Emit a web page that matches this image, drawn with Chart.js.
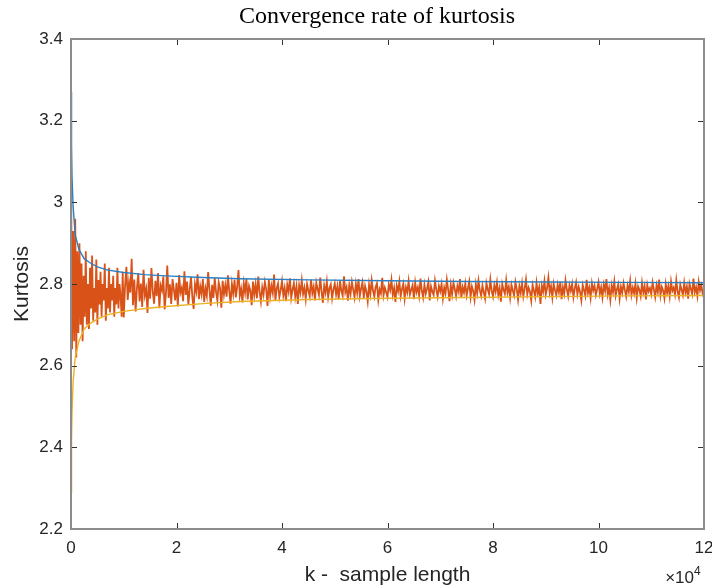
<!DOCTYPE html>
<html>
<head>
<meta charset="utf-8">
<script src="https://cdn.jsdelivr.net/npm/chart.js@4"></script>
<style>
  body { margin: 0; background: #fff; }
</style>
</head>
<body>
<canvas id="grafica" width="712" height="588"></canvas>
<script>
// Envolventes (k en muestras)
const kEnvolvente = [0, 100, 200, 400, 800, 1500, 2500, 3600, 5000, 7000, 10000, 14000, 18000, 25000, 32000, 45000, 60000, 75000, 90000, 105000, 120000];
const curvaSuperior = [3.27, 3.14, 3.06, 2.99, 2.92, 2.885, 2.862, 2.852, 2.842, 2.834, 2.828, 2.823, 2.820, 2.816, 2.813, 2.810, 2.808, 2.806, 2.805, 2.804, 2.803];
const curvaInferior = [2.29, 2.42, 2.49, 2.56, 2.62, 2.66, 2.69, 2.703, 2.714, 2.725, 2.733, 2.740, 2.745, 2.752, 2.757, 2.762, 2.765, 2.767, 2.769, 2.771, 2.772];

// Curtosis medida: primer tramo cada 200 muestras, luego cada 250
const kInicio = 0, pasoInicio = 200;
const curtosisInicio = [
  3.10, 2.64, 2.93, 2.66, 2.96, 2.62, 2.88, 2.68, 2.90, 2.70,
  2.85, 2.66, 2.82, 2.72, 2.88, 2.70, 2.80, 2.69, 2.84, 2.74,
  2.87, 2.71, 2.79, 2.73, 2.86, 2.70, 2.81, 2.75, 2.83, 2.72,
  2.80, 2.76, 2.85, 2.71, 2.79, 2.74, 2.84, 2.73, 2.80, 2.76,
  2.82, 2.72, 2.79, 2.75, 2.84, 2.74, 2.80, 2.77, 2.72, 2.83
];
const kResto = 10000, pasoResto = 250;
const curtosisResto = [
  2.718, 2.795, 2.842, 2.761, 2.804, 2.779, 2.862, 2.748, 2.811, 2.733, 2.790, 2.826, 2.757, 2.801, 2.744, 2.835, 2.772, 2.788, 2.729, 2.815,
  2.764, 2.839, 2.781, 2.752, 2.808, 2.770, 2.827, 2.741, 2.796, 2.784, 2.819, 2.738, 2.777, 2.845, 2.766, 2.799, 2.751, 2.812, 2.786, 2.760,
  2.803, 2.745, 2.822, 2.779, 2.791, 2.758, 2.831, 2.773, 2.806, 2.749, 2.787, 2.817, 2.768, 2.739, 2.800, 2.782, 2.824, 2.763, 2.794, 2.775,
  2.812, 2.756, 2.789, 2.771, 2.829, 2.785, 2.747, 2.798, 2.766, 2.815, 2.780, 2.759, 2.804, 2.790, 2.742, 2.808, 2.774, 2.797, 2.769, 2.821,
  2.783, 2.752, 2.800, 2.776, 2.810, 2.767, 2.793, 2.834, 2.771, 2.788, 2.755, 2.802, 2.779, 2.813, 2.762, 2.795, 2.784, 2.748, 2.806, 2.773,
  2.799, 2.765, 2.818, 2.781, 2.757, 2.792, 2.774, 2.805, 2.787, 2.746, 2.811, 2.770, 2.796, 2.778, 2.823, 2.760, 2.789, 2.801, 2.768, 2.785,
  2.807, 2.772, 2.790, 2.758, 2.798, 2.781, 2.814, 2.766, 2.786, 2.802, 2.769, 2.794, 2.751, 2.797, 2.779, 2.809, 2.775, 2.791, 2.763, 2.800,
  2.784, 2.770, 2.811, 2.777, 2.793, 2.760, 2.803, 2.788, 2.773, 2.816, 2.782, 2.754, 2.796, 2.779, 2.806, 2.768, 2.790, 2.799, 2.765, 2.787,
  2.801, 2.774, 2.794, 2.762, 2.808, 2.783, 2.771, 2.819, 2.780, 2.792, 2.759, 2.797, 2.776, 2.805, 2.786, 2.767, 2.800, 2.778, 2.812, 2.770,
  2.789, 2.804, 2.766, 2.795, 2.781, 2.757, 2.798, 2.775, 2.809, 2.784, 2.769, 2.793, 2.802, 2.761, 2.787, 2.777, 2.815, 2.772, 2.791, 2.780,
  2.768, 2.799, 2.785, 2.810, 2.773, 2.790, 2.756, 2.796, 2.782, 2.806, 2.770, 2.788, 2.801, 2.764, 2.792, 2.779, 2.807, 2.774, 2.786, 2.797,
  2.763, 2.803, 2.780, 2.792, 2.771, 2.813, 2.784, 2.767, 2.798, 2.776, 2.789, 2.805, 2.760, 2.794, 2.781, 2.773, 2.808, 2.786, 2.769, 2.795,
  2.782, 2.800, 2.765, 2.791, 2.777, 2.810, 2.786, 2.758, 2.797, 2.774, 2.803, 2.788, 2.770, 2.795, 2.781, 2.812, 2.766, 2.792, 2.779, 2.801,
  2.772, 2.789, 2.806, 2.768, 2.794, 2.783, 2.761, 2.799, 2.777, 2.808, 2.785, 2.771, 2.796, 2.780, 2.764, 2.802, 2.787, 2.775, 2.811, 2.783,
  2.769, 2.797, 2.781, 2.804, 2.773, 2.790, 2.757, 2.800, 2.786, 2.776, 2.809, 2.779, 2.793, 2.766, 2.798, 2.784, 2.772, 2.805, 2.788, 2.762,
  2.795, 2.778, 2.802, 2.770, 2.789, 2.811, 2.775, 2.791, 2.782, 2.759, 2.798, 2.784, 2.768, 2.803, 2.777, 2.792, 2.751, 2.796, 2.781, 2.807,
  2.774, 2.790, 2.816, 2.779, 2.795, 2.767, 2.801, 2.785, 2.772, 2.798, 2.780, 2.806, 2.763, 2.792, 2.776, 2.809, 2.787, 2.770, 2.797, 2.783,
  2.800, 2.768, 2.789, 2.804, 2.775, 2.793, 2.781, 2.760, 2.798, 2.786, 2.771, 2.810, 2.778, 2.791, 2.766, 2.802, 2.784, 2.796, 2.773, 2.788,
  2.805, 2.776, 2.792, 2.767, 2.799, 2.783, 2.812, 2.774, 2.790, 2.761, 2.797, 2.780, 2.806, 2.771, 2.787, 2.799, 2.764, 2.793, 2.778, 2.802,
  2.785, 2.769, 2.796, 2.781, 2.808, 2.773, 2.791, 2.777, 2.801, 2.766, 2.794, 2.786, 2.770, 2.803, 2.779, 2.795, 2.762, 2.798, 2.782, 2.790,
  2.775, 2.804, 2.787, 2.768, 2.797, 2.780, 2.811, 2.772, 2.793, 2.784, 2.765, 2.800, 2.778, 2.795, 2.770, 2.806, 2.783, 2.791, 2.774, 2.809,
  2.781, 2.767, 2.799, 2.786, 2.773, 2.803, 2.779, 2.794, 2.764, 2.801, 2.788, 2.775, 2.813, 2.780, 2.792, 2.770, 2.805, 2.784, 2.797, 2.776,
  2.785
];

const ticksX = [0, 2, 4, 6, 8, 10, 12]; // ×10^4
const ticksY = [2.2, 2.4, 2.6, 2.8, 3, 3.2, 3.4];

const puntosSup = kEnvolvente.map((k, i) => ({ x: k, y: curvaSuperior[i] }));
const puntosInf = kEnvolvente.map((k, i) => ({ x: k, y: curvaInferior[i] }));
const puntosCurtosis = [
  ...curtosisInicio.map((v, i) => ({ x: kInicio + i * pasoInicio, y: v })),
  ...curtosisResto.map((v, i) => ({ x: kResto + i * pasoResto, y: v }))
];

// Marco estilo MATLAB: caja, ticks hacia dentro, título y ×10^4
const marco = {
  id: 'marco',
  afterDraw(chart) {
    const { ctx, chartArea: a, scales: { x, y } } = chart;
    ctx.save();
    ctx.strokeStyle = '#333';
    ctx.lineWidth = 1;
    ctx.beginPath();
    ticksX.forEach(v => {
      const px = Math.round(x.getPixelForValue(v * 1e4)) + 0.5;
      ctx.moveTo(px, a.bottom); ctx.lineTo(px, a.bottom - 6);
      ctx.moveTo(px, a.top); ctx.lineTo(px, a.top + 6);
    });
    ticksY.forEach(v => {
      const py = Math.round(y.getPixelForValue(v)) + 0.5;
      ctx.moveTo(a.left, py); ctx.lineTo(a.left + 6, py);
      ctx.moveTo(a.right, py); ctx.lineTo(a.right - 6, py);
    });
    ctx.stroke();

    ctx.strokeStyle = '#8c8c8c';
    ctx.lineWidth = 2;
    ctx.strokeRect(a.left, a.top, a.right - a.left, a.bottom - a.top);

    ctx.fillStyle = '#000';
    ctx.font = '24px "Liberation Serif"';
    ctx.textAlign = 'center';
    ctx.textBaseline = 'middle';
    ctx.fillText('Convergence rate of kurtosis', 377, 17);

    ctx.fillStyle = '#262626';
    ctx.textAlign = 'right';
    ctx.textBaseline = 'alphabetic';
    ctx.font = '17px "Liberation Sans"';
    ctx.fillText('×10', 694, 583);
    ctx.textAlign = 'left';
    ctx.font = '12px "Liberation Sans"';
    ctx.fillText('4', 694, 575);
    ctx.restore();
  }
};

new Chart(document.getElementById('grafica'), {
  type: 'line',
  data: {
    datasets: [
      { data: puntosSup, borderColor: '#2a7fc4', borderWidth: 1.4 },
      { data: puntosInf, borderColor: '#EDB120', borderWidth: 1.4 },
      { data: puntosCurtosis, borderColor: '#D95319', borderWidth: 1.8 }
    ]
  },
  options: {
    responsive: false,
    animation: false,
    events: [],
    layout: { padding: { top: 39, right: 8, left: 0, bottom: 0 } },
    elements: { point: { radius: 0 }, line: { tension: 0 } },
    plugins: { legend: { display: false }, tooltip: { enabled: false }, title: { display: false } },
    scales: {
      x: {
        type: 'linear',
        min: 0,
        max: 120000,
        afterBuildTicks: s => { s.ticks = ticksX.map(v => ({ value: v * 1e4 })); },
        afterFit: s => { s.height = 59; s.paddingLeft = 0; s.paddingRight = 0; },
        grid: { display: false, drawTicks: false },
        border: { display: false },
        ticks: {
          color: '#262626',
          padding: 9,
          maxRotation: 0,
          font: { family: 'Liberation Sans', size: 17 },
          callback: v => String(Math.round(v / 1e4))
        },
        title: {
          display: true,
          text: 'k -  sample length',
          color: '#262626',
          font: { family: 'Liberation Sans', size: 21 },
          padding: { top: 0, bottom: 0 }
        }
      },
      y: {
        min: 2.2,
        max: 3.4,
        afterBuildTicks: s => { s.ticks = ticksY.map(v => ({ value: v })); },
        afterFit: s => { s.width = 71; s.paddingTop = 0; s.paddingBottom = 0; },
        grid: { display: false, drawTicks: false },
        border: { display: false },
        ticks: {
          color: '#262626',
          padding: 8,
          font: { family: 'Liberation Sans', size: 17 },
          callback: v => String(Math.round(v * 10) / 10)
        },
        title: {
          display: true,
          text: 'Kurtosis',
          color: '#262626',
          font: { family: 'Liberation Sans', size: 21 },
          padding: { top: 10, bottom: 0 }
        }
      }
    }
  },
  plugins: [marco]
});
</script>
</body>
</html>
